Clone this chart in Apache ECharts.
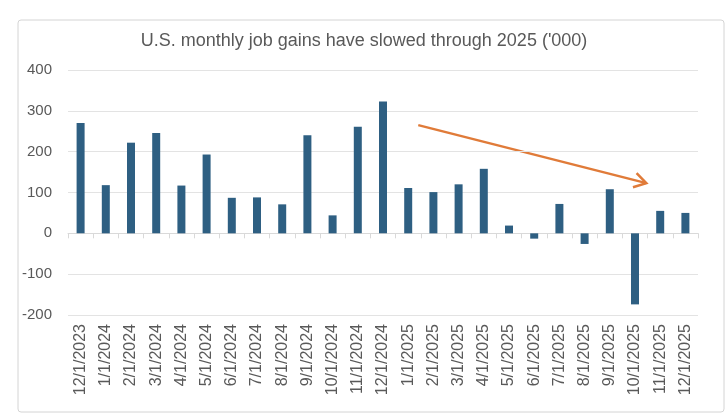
<!DOCTYPE html>
<html><head><meta charset="utf-8">
<script src="https://cdn.jsdelivr.net/npm/echarts@6/dist/echarts.min.js"></script>
<style>html,body{margin:0;padding:0;background:#fff}#c{width:728px;height:420px}</style>
</head><body><div id="c"></div>
<script>
const titleText = "U.S. monthly job gains have slowed through 2025 ('000)";
const months = ["12/1/2023","1/1/2024","2/1/2024","3/1/2024","4/1/2024","5/1/2024","6/1/2024","7/1/2024","8/1/2024","9/1/2024","10/1/2024","11/1/2024","12/1/2024","1/1/2025","2/1/2025","3/1/2025","4/1/2025","5/1/2025","6/1/2025","7/1/2025","8/1/2025","9/1/2025","10/1/2025","11/1/2025","12/1/2025"];
const jobGains = [270,118,222,246,117,193,87,88,71,240,44,261,323,111,101,120,158,19,-13,72,-26,108,-174,55,50];
const yTicks = {min:-200, max:400, interval:100};
// trend arrow annotation endpoints: [category index (fractional), value]
const arrowStart = [13.4, 265];
const arrowEnd = [22.45, 123];

const chart = echarts.init(document.getElementById('c'));
const txt = '#595959';
const border = {type:'rect',shape:{x:18,y:20,width:706,height:392,r:3},style:{fill:'none',stroke:'#d4d4d4',lineWidth:1},silent:true};
chart.setOption({
  animation:false,
  title:{text:titleText,left:'center',top:27,textStyle:{fontFamily:'Liberation Sans, Arial, sans-serif',fontSize:18,fontWeight:'normal',color:txt}},
  grid:{left:68,right:30,top:70,bottom:105},
  xAxis:[{type:'category',data:months,position:'bottom',
    axisLine:{show:false,onZero:false},axisTick:{show:false},
    axisLabel:{rotate:90,fontSize:16,color:txt,margin:9,fontFamily:'Liberation Sans, Arial, sans-serif',interval:0}},
    {type:'category',data:months,position:'bottom',
    axisLine:{show:true,onZero:true,lineStyle:{color:'#d9d9d9',width:1}},
    axisTick:{show:true,length:5,lineStyle:{color:'#d9d9d9'},interval:0},axisLabel:{show:false}}],
  yAxis:{type:'value',min:yTicks.min,max:yTicks.max,interval:yTicks.interval,
    axisLine:{show:false},axisTick:{show:false},
    axisLabel:{fontSize:15,color:txt,margin:16,fontFamily:'Liberation Sans, Arial, sans-serif'},
    splitLine:{lineStyle:{color:'#e3e3e3',width:1}}},
  series:[{type:'bar',data:jobGains,barWidth:8,xAxisIndex:0,itemStyle:{color:'#2e5f82'}}],
  graphic:[border]
});

function px(p){
  const i=Math.floor(p[0]), f=p[0]-i;
  const a=chart.convertToPixel({xAxisIndex:0,yAxisIndex:0},[i,p[1]]);
  const b=chart.convertToPixel({xAxisIndex:0,yAxisIndex:0},[i+1,p[1]]);
  return [a[0]+(b[0]-a[0])*f,a[1]];
}
const s=px(arrowStart), e=px(arrowEnd);
const ang=Math.atan2(e[1]-s[1],e[0]-s[0]);
const L=14, w=0.55;
const h1=[e[0]-L*Math.cos(ang-w),e[1]-L*Math.sin(ang-w)];
const h2=[e[0]-L*Math.cos(ang+w),e[1]-L*Math.sin(ang+w)];
chart.setOption({graphic:[
  border,
  {type:'line',shape:{x1:s[0],y1:s[1],x2:e[0],y2:e[1]},style:{stroke:'#e07b39',lineWidth:2.5}},
  {type:'polyline',shape:{points:[h1,e,h2]},style:{stroke:'#e07b39',lineWidth:2.5,fill:'none'}}
]});
</script></body></html>
